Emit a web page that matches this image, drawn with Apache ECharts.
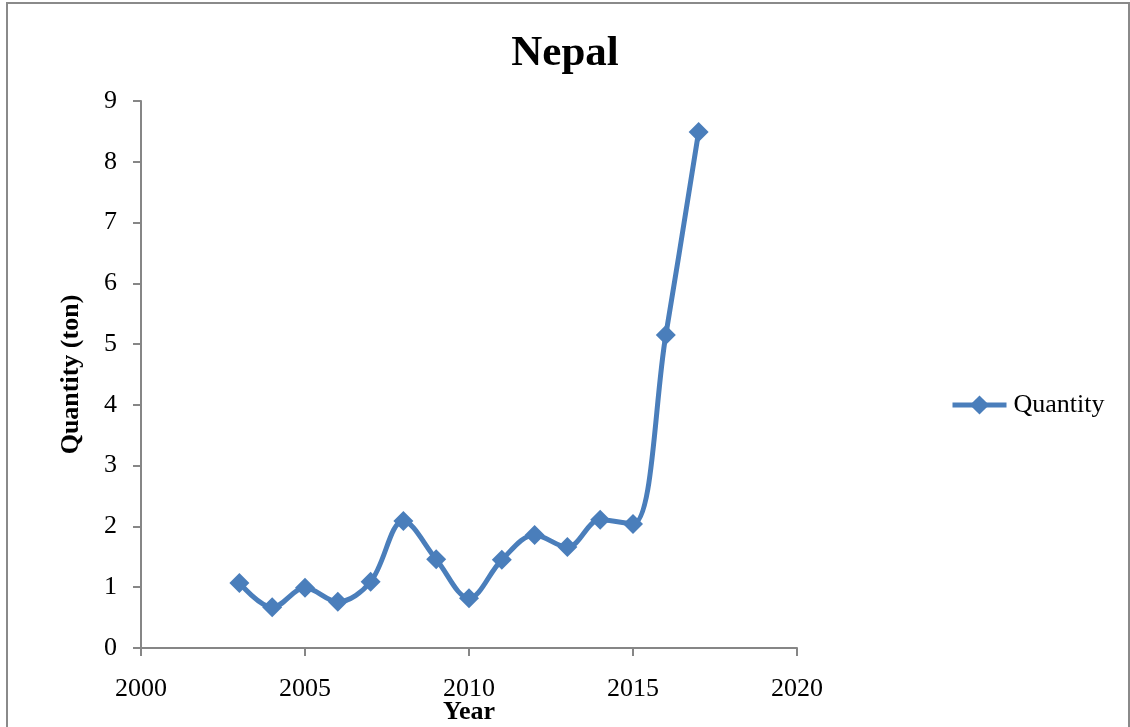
<!DOCTYPE html>
<html>
<head>
<meta charset="utf-8">
<script src="https://cdn.jsdelivr.net/npm/echarts@6/dist/echarts.min.js"></script>
<style>
  html, body { margin: 0; padding: 0; background: #fff; }
  #main { width: 1130px; height: 727px; }
</style>
</head>
<body>
<div id="main"></div>
<script>
(function () {
var myChart = echarts.init(document.getElementById("main"));

var years = [2003, 2004, 2005, 2006, 2007, 2008, 2009, 2010, 2011, 2012, 2013, 2014, 2015, 2016, 2017];
var quantity = [1.07, 0.67, 0.99, 0.76, 1.09, 2.09, 1.46, 0.82, 1.45, 1.86, 1.66, 2.11, 2.04, 5.15, 8.49];

var points = [];
for (var i = 0; i < years.length; i++) {
    points.push([years[i], quantity[i]]);
}

var serif = '"Liberation Serif", "DejaVu Serif", serif';
var axisGray = '#868686';
var blue = '#4a7ebb';

var option = {
    backgroundColor: '#fff',
    animation: false,
    textStyle: { fontFamily: serif },
    title: {
        text: 'Nepal',
        left: 'center',
        top: 27,
        textStyle: {
            fontFamily: serif,
            fontSize: 43,
            fontWeight: 'bold',
            color: '#000'
        }
    },
    graphic: [{
        type: 'rect',
        shape: { x: 7, y: 3, width: 1122, height: 740 },
        style: { fill: 'none', stroke: '#8a8a8a', lineWidth: 2 },
        silent: true
    }],
    legend: {
        data: ['Quantity'],
        left: 945,
        top: 387,
        itemWidth: 54,
        itemHeight: 24,
        lineStyle: { width: 5 },
        textStyle: { fontFamily: serif, fontSize: 26, color: '#000', padding: [0, 0, 0, 2] }
    },
    grid: {
        left: 141,
        right: 333,
        top: 101,
        bottom: 79,
        outerBoundsMode: 'none',
        containLabel: false
    },
    xAxis: {
        type: 'value',
        min: 2000,
        max: 2020,
        interval: 5,
        name: 'Year',
        nameLocation: 'middle',
        nameGap: 51,
        nameMoveOverlap: false,
        nameTextStyle: { fontFamily: serif, fontSize: 26, fontWeight: 'bold', color: '#000' },
        axisLine: { lineStyle: { color: axisGray, width: 2 } },
        axisTick: { show: true, length: 8, lineStyle: { color: axisGray, width: 2 } },
        axisLabel: {
            fontFamily: serif, fontSize: 26, color: '#000', margin: 28,
            formatter: function (v) { return String(v); }
        },
        splitLine: { show: false }
    },
    yAxis: {
        type: 'value',
        min: 0,
        max: 9,
        interval: 1,
        name: 'Quantity (ton)',
        nameLocation: 'middle',
        nameGap: 57,
        nameMoveOverlap: false,
        nameTextStyle: { fontFamily: serif, fontSize: 26, fontWeight: 'bold', color: '#000' },
        axisLine: { show: true, lineStyle: { color: axisGray, width: 2 } },
        axisTick: { show: true, length: 8, lineStyle: { color: axisGray, width: 2 } },
        axisLabel: { fontFamily: serif, fontSize: 26, color: '#000', margin: 24 },
        splitLine: { show: false }
    },
    series: [{
        name: 'Quantity',
        type: 'line',
        data: points,
        smooth: 0.35,
        symbol: 'diamond',
        symbolSize: 20,
        color: blue,
        lineStyle: { color: blue, width: 5 },
        itemStyle: { color: blue }
    }]
};

myChart.setOption(option);
window.addEventListener("resize", function () {
    myChart.resize();
});
})();
</script>
</body>
</html>
